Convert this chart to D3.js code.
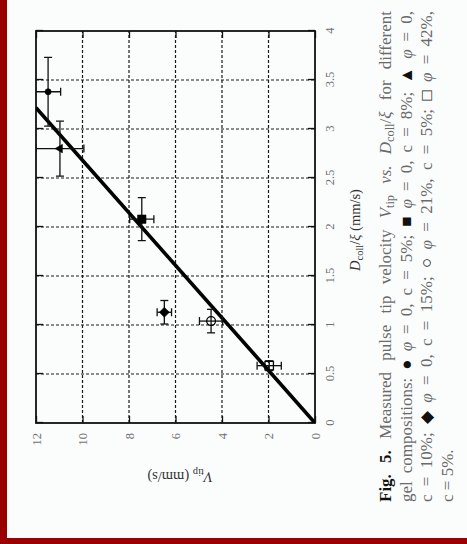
<!DOCTYPE html>
<html><head><meta charset="utf-8">
<script src="https://cdn.jsdelivr.net/npm/d3@7"></script>
<style>html,body{margin:0;padding:0;background:#fff}svg{display:block}</style>
</head><body>
<script>
// ---- data ----
const compositions = ["φ = 0, c = 5%","φ = 0, c = 8%","φ = 0, c = 10%","φ = 0, c = 15%","φ = 21%, c = 5%","φ = 42%, c = 5%"];
const markerKinds = ["circle","square","triangle","diamond","openCircle","openSquare"];
const dcollValues = [3.38, 2.08, 2.80, 1.13, 1.04, 0.585];
const vtipValues  = [11.48, 7.45, 10.97, 6.48, 4.47, 1.97];
const dcollErrors = [0.35, 0.22, 0.28, 0.12, 0.12, 0.05];
const vtipErrors  = [0.54, 0.52, 1.03, 0.31, 0.50, 0.52];
const fitSlope = 3.73;
const dcollTicks = [0,0.5,1,1.5,2,2.5,3,3.5,4];
const dcollTickLabels = ["0","0.5","1","1.5","2","2.5","3","3.5","4"];
const vtipTicks = [0,2,4,6,8,10,12];
const vtipTickLabels = ["0","2","4","6","8","10","12"];

const W = 467, H = 544;
const svg = d3.select("body").append("svg").attr("width", W).attr("height", H);

// page background + red border
svg.append("rect").attr("width", W).attr("height", H).attr("fill", "#fbfdfd");
svg.append("rect").attr("x",0).attr("y",0).attr("width",7).attr("height",H).attr("fill","#990000");
svg.append("rect").attr("x",0).attr("y",538).attr("width",W).attr("height",6).attr("fill","#990000");

// whole page is rotated 90° counter-clockwise
const page = svg.append("g").attr("transform", `translate(0,${H}) rotate(-90)`);

const x = d3.scaleLinear().domain([0,4]).range([121,513]);   // D_coll/xi
const y = d3.scaleLinear().domain([0,12]).range([315,36]);   // V_tip
const [x0,x1] = x.range(), [y0,y1] = [y.range()[1], y.range()[0]];

const defs = svg.append("defs");
defs.append("clipPath").attr("id","plotclip").append("rect")
  .attr("x",x0).attr("y",y0).attr("width",x1-x0).attr("height",y1-y0);

const serif = "'Liberation Serif','Times New Roman',serif";

// grid
const grid = page.append("g").attr("stroke","#1a1a1a").attr("stroke-width",1.2).attr("stroke-dasharray","3,2");
grid.selectAll("line.gx").data(dcollTicks.filter(d=>d>0&&d<4)).join("line")
  .attr("x1",d=>x(d)).attr("x2",d=>x(d)).attr("y1",y0).attr("y2",y1);
grid.selectAll("line.gy").data(vtipTicks.filter(d=>d>0&&d<12)).join("line")
  .attr("x1",x0).attr("x2",x1).attr("y1",d=>y(d)).attr("y2",d=>y(d));

// axes (inward ticks)
function styleAxis(g){
  g.select(".domain").remove();
  g.selectAll(".tick line").attr("stroke","#111").attr("stroke-width",1.3);
  g.selectAll(".tick text").attr("fill","#707070").attr("font-family",serif).attr("font-size",12.5);
}
page.append("g").attr("transform",`translate(0,${y1})`)
  .call(d3.axisBottom(x).tickValues(dcollTicks).tickFormat((d,i)=>dcollTickLabels[i]).tickSize(-7).tickPadding(10))
  .call(styleAxis)
  .call(g=>g.selectAll(".tick text").attr("y",15).attr("dy","0.35em"));
page.append("g").attr("transform",`translate(0,${y0})`)
  .call(d3.axisTop(x).tickValues(dcollTicks).tickFormat("").tickSize(-7)).call(styleAxis);
page.append("g").attr("transform",`translate(${x0},0)`)
  .call(d3.axisLeft(y).tickValues(vtipTicks).tickFormat((d,i)=>vtipTickLabels[i]).tickSize(-7).tickPadding(10))
  .call(styleAxis);
page.append("g").attr("transform",`translate(${x1},0)`)
  .call(d3.axisRight(y).tickValues(vtipTicks).tickFormat("").tickSize(-7)).call(styleAxis);

// frame
page.append("rect").attr("x",x0).attr("y",y0).attr("width",x1-x0).attr("height",y1-y0)
  .attr("fill","none").attr("stroke","#111").attr("stroke-width",1.8);

const plot = page.append("g").attr("clip-path","url(#plotclip)");

// fit line
const fitV = [0, 12];
const fitD = fitV.map(v=>v/fitSlope);
plot.append("path").datum(fitD.map((d,i)=>[d,fitV[i]]))
  .attr("d", d3.line().x(d=>x(d[0])).y(d=>y(d[1])))
  .attr("stroke","#000").attr("stroke-width",3.6).attr("fill","none");

// error bars
const pts = dcollValues.map((d,i)=>({d, v:vtipValues[i], de:dcollErrors[i], ve:vtipErrors[i], kind:markerKinds[i], label:compositions[i]}));
const eb = plot.append("g").attr("stroke","#111").attr("stroke-width",1.3).attr("fill","none");
const cap = 4;
pts.forEach(p=>{
  const g = eb.append("g");
  g.append("line").attr("x1",x(p.d-p.de)).attr("x2",x(p.d+p.de)).attr("y1",y(p.v)).attr("y2",y(p.v));
  [p.d-p.de,p.d+p.de].forEach(e=>g.append("line").attr("x1",x(e)).attr("x2",x(e)).attr("y1",y(p.v)-cap).attr("y2",y(p.v)+cap));
  g.append("line").attr("y1",y(p.v-p.ve)).attr("y2",y(p.v+p.ve)).attr("x1",x(p.d)).attr("x2",x(p.d));
  [p.v-p.ve,p.v+p.ve].forEach(e=>g.append("line").attr("y1",y(e)).attr("y2",y(e)).attr("x1",x(p.d)-cap).attr("x2",x(p.d)+cap));
});

// markers
const symMap = {circle:[d3.symbolCircle,30], square:[d3.symbolSquare,72], triangle:[d3.symbolTriangle,32],
  diamond:[d3.symbolDiamond2,64], openCircle:[d3.symbolCircle,60], openSquare:[d3.symbolSquare,72]};
plot.append("g").selectAll("path").data(pts).join("path")
  .attr("transform",p=>`translate(${x(p.d)},${y(p.v)})`)
  .attr("d",p=>d3.symbol(symMap[p.kind][0], symMap[p.kind][1])())
  .attr("fill",p=>p.kind.startsWith("open")?"none":"#000")
  .attr("stroke","#000").attr("stroke-width",p=>p.kind.startsWith("open")?1.3:0.5);

// rich text helper
function rich(sel, parts){
  parts.forEach(p=>{
    const t = sel.append("tspan").text(p.t);
    if(p.i) t.attr("font-style","italic");
    if(p.b) t.attr("font-weight","bold");
    if(p.sub){ t.attr("dy",3).attr("font-size","0.72em"); }
    if(p.after) t.attr("dy",-3);
    if(p.fill) t.attr("fill",p.fill);
  });
  return sel;
}
// axis labels
rich(page.append("text").attr("x",314).attr("y",360).attr("text-anchor","middle")
  .attr("font-family",serif).attr("font-size",14.5).attr("fill","#333"),
  [{t:"D",i:1},{t:"coll",sub:1},{t:"/",after:1},{t:"ξ",i:1},{t:" (mm/s)"}]);
rich(page.append("text").attr("transform","translate(72,180) rotate(-90)").attr("text-anchor","middle")
  .attr("font-family",serif).attr("font-size",14.5).attr("fill","#333"),
  [{t:"V",i:1},{t:"tip",sub:1},{t:" (mm/s)",after:1}]);

// caption
const blk = "#111";
const captionLines = [
  [{t:"Fig. 5.",b:1,fill:blk},{t:" Measured pulse tip velocity "},{t:"V",i:1},{t:"tip",sub:1},{t:" ",after:1},{t:"vs.",i:1},{t:" "},{t:"D",i:1},{t:"coll",sub:1},{t:"/",after:1},{t:"ξ",i:1},{t:" for different"}],
  [{t:"gel compositions: "},{t:"●",fill:blk},{t:" "},{t:"φ",i:1},{t:" = 0, c = 5%; "},{t:"■",fill:blk},{t:" "},{t:"φ",i:1},{t:" = 0, c = 8%; "},{t:"▲",fill:blk},{t:" "},{t:"φ",i:1},{t:" = 0,"}],
  [{t:"c = 10%; "},{t:"◆",fill:blk},{t:" "},{t:"φ",i:1},{t:" = 0, c = 15%; "},{t:"○",fill:blk},{t:" "},{t:"φ",i:1},{t:" = 21%, c = 5%; "},{t:"□",fill:blk},{t:" "},{t:"φ",i:1},{t:" = 42%,"}],
  [{t:"c = 5%."}]
];
const capBase = [391, 411.5, 432, 452.5];
const capX0 = 42, capX1 = 533;
captionLines.forEach((parts,li)=>{
  const t = rich(page.append("text").attr("x",capX0).attr("y",capBase[li])
    .attr("font-family",serif).attr("font-size",17).attr("fill","#6a6a6a"), parts);
  if(li<3){
    const natural = t.node().getComputedTextLength();
    const nSpaces = parts.map(p=>p.t).join("").split(" ").length-1;
    t.attr("word-spacing", (capX1-capX0-natural)/nSpaces);
  }
});
</script>
</body></html>
